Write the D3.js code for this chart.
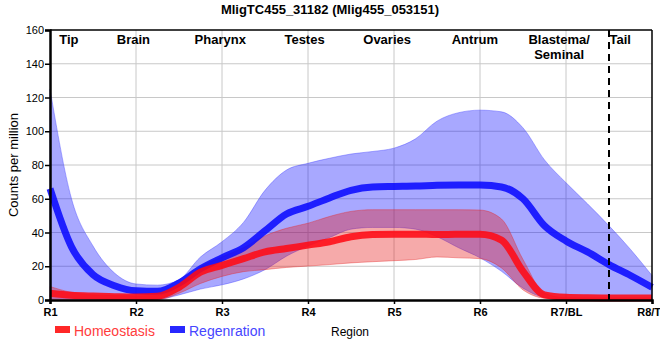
<!DOCTYPE html>
<html>
<head>
<meta charset="utf-8">
<script src="https://cdn.jsdelivr.net/npm/d3@7"></script>
<style>
  body { margin: 0; background: #fff; }
  text { font-family: "Liberation Sans", Arial, sans-serif; }
</style>
</head>
<body>
<div id="chart"></div>
<script>
// positions along the body, in region units (R1 = 1 ... R8 = 8)
var positions = [1, 1.25, 1.5, 1.75, 2, 2.25, 2.5, 2.75, 3, 3.25, 3.5, 3.75, 4, 4.25, 4.5,
                 4.75, 5, 5.25, 5.5, 5.75, 6, 6.25, 6.5, 6.75, 7, 7.25, 7.5, 7.75, 8];

// regeneration (blue)
var regenMean  = [66, 31.5, 15, 8.5, 5.5, 5.2, 10, 18.5, 25, 31, 41, 51, 55.5, 60.5, 65,
                  67, 67.3, 67.5, 68, 68.2, 68.1, 67, 60, 44, 35, 28.5, 21, 14.5, 7.5];
var regenUpper = [125, 60, 32, 16, 9.5, 8.8, 12, 25.5, 34.5, 46, 65, 77, 81, 84, 86.5,
                  88, 90, 95.5, 106, 111, 112.5, 111.5, 102, 83, 69.5, 57, 44, 30, 14.5];
var regenLower = [0.5, 0.5, 0.5, 0.5, 0.5, 0.5, 3, 6.5, 9, 12.5, 18, 26, 32, 37, 42,
                  43, 43, 42, 37.5, 31, 25, 17, 7, 1.5, 0.3, 0.3, 0.3, 0.3, 0.3];

// homeostasis (red)
var homeoMean  = [4, 2.8, 2.3, 2, 1.8, 2.2, 7.5, 16.5, 20.5, 24.5, 28.5, 30.5, 32.5, 34.5, 37.5,
                  38.8, 39, 39, 38.8, 38.9, 38.9, 35.5, 17, 3, 1.6, 1.3, 1.2, 1.2, 1.2];
var homeoUpper = [8, 4.5, 3, 2.6, 2.4, 2.6, 8.5, 19.5, 25.5, 31, 38, 42.5, 45.5, 49.5, 52.5,
                  53.5, 53.5, 53.5, 53.5, 53.5, 53.3, 48, 24, 4, 1.3, 1.2, 1.2, 1.2, 1.2];
var homeoLower = [0.2, 0.2, 0.2, 0.2, 0.2, 0.2, 4, 9.8, 14, 16.8, 18, 19.3, 20.1, 21, 22,
                  22.7, 23.3, 24, 25.5, 25, 24.5, 19, 6, 1, 0.3, 0.3, 0.3, 0.3, 0.3];

var tickValues = [1, 2, 3, 4, 5, 6, 7, 8];
var tickLabels = ["R1", "R2", "R3", "R4", "R5", "R6", "R7/BL", "R8/TL"];
var yTicks = [0, 20, 40, 60, 80, 100, 120, 140, 160];

var regionNames = [["Tip"], ["Brain"], ["Pharynx"], ["Testes"], ["Ovaries"], ["Antrum"],
                   ["Blastema/", "Seminal"], ["Tail"]];
var regionCenters = [1.22, 1.97, 2.98, 3.96, 4.92, 5.94, 6.92, 7.63];
var tailBoundary = 7.5;

var svgWidth = 660;
var svgHeight = 360;
var margin = {top: 30, right: 8, bottom: 60, left: 50};
var width = svgWidth - margin.left - margin.right;
var height = svgHeight - margin.top - margin.bottom;

var svg = d3.select("#chart")
  .append("svg")
  .attr("width", svgWidth)
  .attr("height", svgHeight);

var chartGroup = svg.append("g")
  .attr("transform", "translate(" + margin.left + "," + margin.top + ")");

var xScale = d3.scaleLinear().domain([1, 8]).range([0, width]);
var yScale = d3.scaleLinear().domain([0, 160]).range([height, 0]);

// grid
chartGroup.append("g")
  .selectAll("line.hgrid")
  .data(yTicks.slice(1, -1))
  .enter().append("line")
  .attr("x1", 0).attr("x2", width)
  .attr("y1", d => yScale(d)).attr("y2", d => yScale(d))
  .attr("stroke", "#c8c8c8").attr("stroke-width", 1);

chartGroup.append("g")
  .selectAll("line.vgrid")
  .data(tickValues.slice(1, -1))
  .enter().append("line")
  .attr("x1", d => xScale(d)).attr("x2", d => xScale(d))
  .attr("y1", 0).attr("y2", height)
  .attr("stroke", "#c8c8c8").attr("stroke-width", 1);

// build rows for the area / line generators
function rows(mean, lower, upper) {
  return positions.map(function(p, i) {
    return {x: p, mean: mean[i], lo: lower[i], hi: upper[i]};
  });
}
var regen = rows(regenMean, regenLower, regenUpper);
var homeo = rows(homeoMean, homeoLower, homeoUpper);

var band = d3.area()
  .curve(d3.curveMonotoneX)
  .x(d => xScale(d.x))
  .y0(d => yScale(d.lo))
  .y1(d => yScale(d.hi));

var line = d3.line()
  .curve(d3.curveMonotoneX)
  .x(d => xScale(d.x))
  .y(d => yScale(d.mean));

chartGroup.append("path")
  .datum(regen)
  .attr("d", band)
  .attr("fill", "rgb(0,0,255)")
  .attr("fill-opacity", 0.34)
  .attr("stroke", "rgb(60,60,255)")
  .attr("stroke-opacity", 0.4)
  .attr("stroke-width", 1);

chartGroup.append("path")
  .datum(homeo)
  .attr("d", band)
  .attr("fill", "rgb(230,20,20)")
  .attr("fill-opacity", 0.36)
  .attr("stroke", "rgb(230,40,40)")
  .attr("stroke-opacity", 0.4)
  .attr("stroke-width", 1);

chartGroup.append("path")
  .datum(regen)
  .attr("d", line)
  .attr("fill", "none")
  .attr("stroke", "rgb(10,10,255)")
  .attr("stroke-opacity", 0.88)
  .attr("stroke-width", 7);

chartGroup.append("path")
  .datum(homeo)
  .attr("d", line)
  .attr("fill", "none")
  .attr("stroke", "rgb(255,10,20)")
  .attr("stroke-opacity", 0.88)
  .attr("stroke-width", 7);

// tail boundary
chartGroup.append("line")
  .attr("x1", xScale(tailBoundary)).attr("x2", xScale(tailBoundary))
  .attr("y1", 0).attr("y2", height)
  .attr("stroke", "#000")
  .attr("stroke-width", 2)
  .attr("stroke-dasharray", "7,5");

// frame
chartGroup.append("line")
  .attr("x1", 0).attr("x2", width).attr("y1", 0).attr("y2", 0)
  .attr("stroke", "#000").attr("stroke-width", 1.5);
chartGroup.append("line")
  .attr("x1", width).attr("x2", width).attr("y1", 0).attr("y2", height)
  .attr("stroke", "#000").attr("stroke-width", 1.5);

// axes
var bottomAxis = d3.axisBottom(xScale)
  .tickValues(tickValues)
  .tickFormat((d, i) => tickLabels[i])
  .tickSizeOuter(0)
  .tickSize(4);
var leftAxis = d3.axisLeft(yScale)
  .tickValues(yTicks)
  .tickSizeOuter(0)
  .tickSize(5);

var xAxisG = chartGroup.append("g")
  .attr("transform", "translate(0," + height + ")")
  .call(bottomAxis);
xAxisG.select(".domain").attr("stroke-width", 2.5);
xAxisG.selectAll(".tick line").attr("stroke-width", 1.5);
xAxisG.selectAll("text")
  .attr("font-family", "Liberation Sans, Arial, sans-serif")
  .attr("font-size", "11px")
  .attr("font-weight", "bold")
  .attr("fill", "#000")
  .attr("y", 8);

var yAxisG = chartGroup.append("g")
  .call(leftAxis);
yAxisG.select(".domain").attr("stroke-width", 2.5);
yAxisG.selectAll(".tick line").attr("stroke-width", 1.5);
yAxisG.selectAll("text")
  .attr("font-family", "Liberation Sans, Arial, sans-serif")
  .attr("font-size", "11px")
  .attr("fill", "#000")
  .attr("x", -6);

// region names along the top
var regionText = chartGroup.selectAll("text.region")
  .data(regionNames)
  .enter().append("text")
  .attr("class", "region")
  .attr("x", (d, i) => xScale(regionCenters[i]))
  .attr("y", 14)
  .attr("text-anchor", "middle")
  .attr("font-size", "13px")
  .attr("font-weight", "bold")
  .attr("fill", "#000");
regionText.selectAll("tspan")
  .data(d => d)
  .enter().append("tspan")
  .attr("x", function() { return d3.select(this.parentNode).attr("x"); })
  .attr("dy", (d, i) => i === 0 ? 0 : 15)
  .text(d => d);

// title
svg.append("text")
  .attr("x", 330)
  .attr("y", 13.5)
  .attr("text-anchor", "middle")
  .attr("font-size", "13px")
  .attr("font-weight", "bold")
  .text("MligTC455_31182 (Mlig455_053151)");

// axis labels
svg.append("text")
  .attr("transform", "rotate(-90)")
  .attr("x", -(margin.top + height / 2))
  .attr("y", 18)
  .attr("text-anchor", "middle")
  .attr("font-size", "13px")
  .text("Counts per million");

svg.append("text")
  .attr("x", 331)
  .attr("y", 336)
  .attr("font-size", "12px")
  .text("Region");

// legend
var legendItems = [
  {name: "Homeostasis", swatch: "rgb(255,40,40)", text: "rgb(255,60,60)"},
  {name: "Regenration", swatch: "rgb(40,40,255)", text: "rgb(70,70,255)"}
];
var legendX = [55, 170];
var legend = svg.selectAll("g.legend")
  .data(legendItems)
  .enter().append("g")
  .attr("class", "legend")
  .attr("transform", (d, i) => "translate(" + legendX[i] + ",326)");
legend.append("rect")
  .attr("width", 15).attr("height", 7)
  .attr("fill", d => d.swatch);
legend.append("text")
  .attr("x", 19)
  .attr("y", 10)
  .attr("font-size", "14px")
  .attr("fill", d => d.text)
  .text(d => d.name);
</script>
</body>
</html>
